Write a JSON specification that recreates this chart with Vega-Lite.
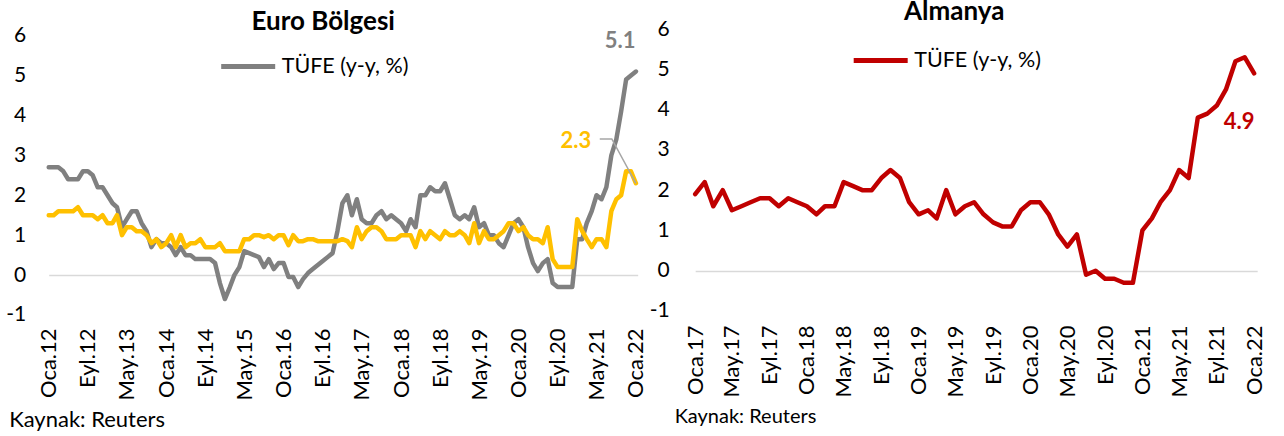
{
  "$schema": "https://vega.github.io/schema/vega-lite/v6.json",
  "background": "white",
  "padding": {"left": 5.7, "top": -2, "right": 0, "bottom": 0},
  "spacing": 57.5,
  "bounds": "flush",
  "config": {
    "font": "Lato",
    "view": {"stroke": null},
    "axis": {"domain": false, "ticks": false, "tickSize": 0, "grid": false, "labelColor": "#000000", "labelFont": "Lato", "titleFont": "Lato", "labelOverlap": false, "labelFlush": false},
    "axisX": {"labelOverlap": false, "labelFlush": false, "labelAngle": 270},
    "legend": {"labelFont": "Lato"}
  },
  "resolve": {"scale": {"color": "independent"}, "legend": {"color": "independent"}},
  "datasets": {
    "euro": [
      {"d": "2012-01", "tufe": 2.7, "cekirdek": 1.5},
      {"d": "2012-02", "tufe": 2.7, "cekirdek": 1.5},
      {"d": "2012-03", "tufe": 2.7, "cekirdek": 1.6},
      {"d": "2012-04", "tufe": 2.6, "cekirdek": 1.6},
      {"d": "2012-05", "tufe": 2.4, "cekirdek": 1.6},
      {"d": "2012-06", "tufe": 2.4, "cekirdek": 1.6},
      {"d": "2012-07", "tufe": 2.4, "cekirdek": 1.7},
      {"d": "2012-08", "tufe": 2.6, "cekirdek": 1.5},
      {"d": "2012-09", "tufe": 2.6, "cekirdek": 1.5},
      {"d": "2012-10", "tufe": 2.5, "cekirdek": 1.5},
      {"d": "2012-11", "tufe": 2.2, "cekirdek": 1.4},
      {"d": "2012-12", "tufe": 2.2, "cekirdek": 1.5},
      {"d": "2013-01", "tufe": 2.0, "cekirdek": 1.3},
      {"d": "2013-02", "tufe": 1.8, "cekirdek": 1.3},
      {"d": "2013-03", "tufe": 1.7, "cekirdek": 1.5},
      {"d": "2013-04", "tufe": 1.2, "cekirdek": 1.0},
      {"d": "2013-05", "tufe": 1.4, "cekirdek": 1.2},
      {"d": "2013-06", "tufe": 1.6, "cekirdek": 1.2},
      {"d": "2013-07", "tufe": 1.6, "cekirdek": 1.1},
      {"d": "2013-08", "tufe": 1.3, "cekirdek": 1.1},
      {"d": "2013-09", "tufe": 1.1, "cekirdek": 1.0},
      {"d": "2013-10", "tufe": 0.7, "cekirdek": 0.8},
      {"d": "2013-11", "tufe": 0.9, "cekirdek": 0.9},
      {"d": "2013-12", "tufe": 0.8, "cekirdek": 0.7},
      {"d": "2014-01", "tufe": 0.8, "cekirdek": 0.8},
      {"d": "2014-02", "tufe": 0.7, "cekirdek": 1.0},
      {"d": "2014-03", "tufe": 0.5, "cekirdek": 0.7},
      {"d": "2014-04", "tufe": 0.7, "cekirdek": 1.0},
      {"d": "2014-05", "tufe": 0.5, "cekirdek": 0.7},
      {"d": "2014-06", "tufe": 0.5, "cekirdek": 0.8},
      {"d": "2014-07", "tufe": 0.4, "cekirdek": 0.8},
      {"d": "2014-08", "tufe": 0.4, "cekirdek": 0.9},
      {"d": "2014-09", "tufe": 0.4, "cekirdek": 0.7},
      {"d": "2014-10", "tufe": 0.4, "cekirdek": 0.7},
      {"d": "2014-11", "tufe": 0.3, "cekirdek": 0.7},
      {"d": "2014-12", "tufe": -0.2, "cekirdek": 0.8},
      {"d": "2015-01", "tufe": -0.6, "cekirdek": 0.6},
      {"d": "2015-02", "tufe": -0.3, "cekirdek": 0.6},
      {"d": "2015-03", "tufe": 0.0, "cekirdek": 0.6},
      {"d": "2015-04", "tufe": 0.2, "cekirdek": 0.6},
      {"d": "2015-05", "tufe": 0.6, "cekirdek": 0.9},
      {"d": "2015-06", "tufe": 0.55, "cekirdek": 0.9},
      {"d": "2015-07", "tufe": 0.5, "cekirdek": 1.0},
      {"d": "2015-08", "tufe": 0.45, "cekirdek": 1.0},
      {"d": "2015-09", "tufe": 0.2, "cekirdek": 0.95},
      {"d": "2015-10", "tufe": 0.4, "cekirdek": 1.0},
      {"d": "2015-11", "tufe": 0.15, "cekirdek": 0.9},
      {"d": "2015-12", "tufe": 0.3, "cekirdek": 1.0},
      {"d": "2016-01", "tufe": 0.3, "cekirdek": 1.0},
      {"d": "2016-02", "tufe": -0.05, "cekirdek": 0.75},
      {"d": "2016-03", "tufe": -0.05, "cekirdek": 1.0},
      {"d": "2016-04", "tufe": -0.3, "cekirdek": 0.85},
      {"d": "2016-05", "tufe": -0.1, "cekirdek": 0.85},
      {"d": "2016-06", "tufe": 0.05, "cekirdek": 0.9},
      {"d": "2016-07", "tufe": 0.15, "cekirdek": 0.9},
      {"d": "2016-08", "tufe": 0.25, "cekirdek": 0.85},
      {"d": "2016-09", "tufe": 0.35, "cekirdek": 0.85},
      {"d": "2016-10", "tufe": 0.45, "cekirdek": 0.85},
      {"d": "2016-11", "tufe": 0.55, "cekirdek": 0.85},
      {"d": "2016-12", "tufe": 1.1, "cekirdek": 0.85},
      {"d": "2017-01", "tufe": 1.8, "cekirdek": 0.9},
      {"d": "2017-02", "tufe": 2.0, "cekirdek": 0.85},
      {"d": "2017-03", "tufe": 1.5, "cekirdek": 0.7},
      {"d": "2017-04", "tufe": 1.9, "cekirdek": 1.2},
      {"d": "2017-05", "tufe": 1.4, "cekirdek": 0.9},
      {"d": "2017-06", "tufe": 1.3, "cekirdek": 1.1},
      {"d": "2017-07", "tufe": 1.3, "cekirdek": 1.2},
      {"d": "2017-08", "tufe": 1.5, "cekirdek": 1.2},
      {"d": "2017-09", "tufe": 1.6, "cekirdek": 1.1},
      {"d": "2017-10", "tufe": 1.4, "cekirdek": 0.9},
      {"d": "2017-11", "tufe": 1.5, "cekirdek": 0.9},
      {"d": "2017-12", "tufe": 1.4, "cekirdek": 0.9},
      {"d": "2018-01", "tufe": 1.3, "cekirdek": 1.0},
      {"d": "2018-02", "tufe": 1.1, "cekirdek": 1.0},
      {"d": "2018-03", "tufe": 1.4, "cekirdek": 1.0},
      {"d": "2018-04", "tufe": 1.2, "cekirdek": 0.7},
      {"d": "2018-05", "tufe": 2.0, "cekirdek": 1.1},
      {"d": "2018-06", "tufe": 2.0, "cekirdek": 0.9},
      {"d": "2018-07", "tufe": 2.2, "cekirdek": 1.1},
      {"d": "2018-08", "tufe": 2.1, "cekirdek": 1.0},
      {"d": "2018-09", "tufe": 2.1, "cekirdek": 0.9},
      {"d": "2018-10", "tufe": 2.3, "cekirdek": 1.1},
      {"d": "2018-11", "tufe": 1.9, "cekirdek": 1.0},
      {"d": "2018-12", "tufe": 1.5, "cekirdek": 1.0},
      {"d": "2019-01", "tufe": 1.4, "cekirdek": 1.1},
      {"d": "2019-02", "tufe": 1.5, "cekirdek": 1.0},
      {"d": "2019-03", "tufe": 1.4, "cekirdek": 0.8},
      {"d": "2019-04", "tufe": 1.7, "cekirdek": 1.3},
      {"d": "2019-05", "tufe": 1.2, "cekirdek": 0.8},
      {"d": "2019-06", "tufe": 1.3, "cekirdek": 1.1},
      {"d": "2019-07", "tufe": 1.0, "cekirdek": 0.9},
      {"d": "2019-08", "tufe": 1.0, "cekirdek": 0.9},
      {"d": "2019-09", "tufe": 0.8, "cekirdek": 1.0},
      {"d": "2019-10", "tufe": 0.7, "cekirdek": 1.1},
      {"d": "2019-11", "tufe": 1.0, "cekirdek": 1.3},
      {"d": "2019-12", "tufe": 1.3, "cekirdek": 1.3},
      {"d": "2020-01", "tufe": 1.4, "cekirdek": 1.1},
      {"d": "2020-02", "tufe": 1.2, "cekirdek": 1.2},
      {"d": "2020-03", "tufe": 0.7, "cekirdek": 1.0},
      {"d": "2020-04", "tufe": 0.3, "cekirdek": 0.9},
      {"d": "2020-05", "tufe": 0.1, "cekirdek": 0.9},
      {"d": "2020-06", "tufe": 0.3, "cekirdek": 0.8},
      {"d": "2020-07", "tufe": 0.4, "cekirdek": 1.2},
      {"d": "2020-08", "tufe": -0.2, "cekirdek": 0.4},
      {"d": "2020-09", "tufe": -0.3, "cekirdek": 0.2},
      {"d": "2020-10", "tufe": -0.3, "cekirdek": 0.2},
      {"d": "2020-11", "tufe": -0.3, "cekirdek": 0.2},
      {"d": "2020-12", "tufe": -0.3, "cekirdek": 0.2},
      {"d": "2021-01", "tufe": 0.9, "cekirdek": 1.4},
      {"d": "2021-02", "tufe": 0.9, "cekirdek": 1.1},
      {"d": "2021-03", "tufe": 1.3, "cekirdek": 0.9},
      {"d": "2021-04", "tufe": 1.6, "cekirdek": 0.7},
      {"d": "2021-05", "tufe": 2.0, "cekirdek": 0.9},
      {"d": "2021-06", "tufe": 1.9, "cekirdek": 0.9},
      {"d": "2021-07", "tufe": 2.2, "cekirdek": 0.7},
      {"d": "2021-08", "tufe": 3.0, "cekirdek": 1.6},
      {"d": "2021-09", "tufe": 3.4, "cekirdek": 1.9},
      {"d": "2021-10", "tufe": 4.1, "cekirdek": 2.0},
      {"d": "2021-11", "tufe": 4.9, "cekirdek": 2.6},
      {"d": "2021-12", "tufe": 5.0, "cekirdek": 2.6},
      {"d": "2022-01", "tufe": 5.1, "cekirdek": 2.3}
    ],
    "almanya": [
      {"d": "2017-01", "tufe": 1.9},
      {"d": "2017-02", "tufe": 2.2},
      {"d": "2017-03", "tufe": 1.6},
      {"d": "2017-04", "tufe": 2.0},
      {"d": "2017-05", "tufe": 1.5},
      {"d": "2017-06", "tufe": 1.6},
      {"d": "2017-07", "tufe": 1.7},
      {"d": "2017-08", "tufe": 1.8},
      {"d": "2017-09", "tufe": 1.8},
      {"d": "2017-10", "tufe": 1.6},
      {"d": "2017-11", "tufe": 1.8},
      {"d": "2017-12", "tufe": 1.7},
      {"d": "2018-01", "tufe": 1.6},
      {"d": "2018-02", "tufe": 1.4},
      {"d": "2018-03", "tufe": 1.6},
      {"d": "2018-04", "tufe": 1.6},
      {"d": "2018-05", "tufe": 2.2},
      {"d": "2018-06", "tufe": 2.1},
      {"d": "2018-07", "tufe": 2.0},
      {"d": "2018-08", "tufe": 2.0},
      {"d": "2018-09", "tufe": 2.3},
      {"d": "2018-10", "tufe": 2.5},
      {"d": "2018-11", "tufe": 2.3},
      {"d": "2018-12", "tufe": 1.7},
      {"d": "2019-01", "tufe": 1.4},
      {"d": "2019-02", "tufe": 1.5},
      {"d": "2019-03", "tufe": 1.3},
      {"d": "2019-04", "tufe": 2.0},
      {"d": "2019-05", "tufe": 1.4},
      {"d": "2019-06", "tufe": 1.6},
      {"d": "2019-07", "tufe": 1.7},
      {"d": "2019-08", "tufe": 1.4},
      {"d": "2019-09", "tufe": 1.2},
      {"d": "2019-10", "tufe": 1.1},
      {"d": "2019-11", "tufe": 1.1},
      {"d": "2019-12", "tufe": 1.5},
      {"d": "2020-01", "tufe": 1.7},
      {"d": "2020-02", "tufe": 1.7},
      {"d": "2020-03", "tufe": 1.4},
      {"d": "2020-04", "tufe": 0.9},
      {"d": "2020-05", "tufe": 0.6},
      {"d": "2020-06", "tufe": 0.9},
      {"d": "2020-07", "tufe": -0.1},
      {"d": "2020-08", "tufe": 0.0},
      {"d": "2020-09", "tufe": -0.2},
      {"d": "2020-10", "tufe": -0.2},
      {"d": "2020-11", "tufe": -0.3},
      {"d": "2020-12", "tufe": -0.3},
      {"d": "2021-01", "tufe": 1.0},
      {"d": "2021-02", "tufe": 1.3},
      {"d": "2021-03", "tufe": 1.7},
      {"d": "2021-04", "tufe": 2.0},
      {"d": "2021-05", "tufe": 2.5},
      {"d": "2021-06", "tufe": 2.3},
      {"d": "2021-07", "tufe": 3.8},
      {"d": "2021-08", "tufe": 3.9},
      {"d": "2021-09", "tufe": 4.1},
      {"d": "2021-10", "tufe": 4.5},
      {"d": "2021-11", "tufe": 5.2},
      {"d": "2021-12", "tufe": 5.3},
      {"d": "2022-01", "tufe": 4.9}
    ]
  },
  "hconcat": [
    {
      "width": 589,
      "height": 286,
      "title": {"text": "Euro Bölgesi", "anchor": "middle", "frame": "group", "font": "Lato", "fontSize": 26, "fontWeight": "bold", "color": "#000000", "baseline": "alphabetic", "offset": -31.7, "dx": -20},
      "encoding": {
        "x": {"field": "d", "type": "temporal", "title": "Kaynak: Reuters",
          "scale": {"type": "utc", "domain": [{"year": 2012, "month": 1, "date": 1, "utc": true}, {"year": 2022, "month": 1, "date": 12, "utc": true}]},
          "axis": {
            "values": [
              {"year": 2012, "month": 1, "date": 1, "utc": true}, {"year": 2012, "month": 9, "date": 1, "utc": true},
              {"year": 2013, "month": 5, "date": 1, "utc": true}, {"year": 2014, "month": 1, "date": 1, "utc": true},
              {"year": 2014, "month": 9, "date": 1, "utc": true}, {"year": 2015, "month": 5, "date": 1, "utc": true},
              {"year": 2016, "month": 1, "date": 1, "utc": true}, {"year": 2016, "month": 9, "date": 1, "utc": true},
              {"year": 2017, "month": 5, "date": 1, "utc": true}, {"year": 2018, "month": 1, "date": 1, "utc": true},
              {"year": 2018, "month": 9, "date": 1, "utc": true}, {"year": 2019, "month": 5, "date": 1, "utc": true},
              {"year": 2020, "month": 1, "date": 1, "utc": true}, {"year": 2020, "month": 9, "date": 1, "utc": true},
              {"year": 2021, "month": 5, "date": 1, "utc": true}, {"year": 2022, "month": 1, "date": 1, "utc": true}
            ],
            "labelExpr": "['Oca','Şub','Mar','Nis','May','Haz','Tem','Ağu','Eyl','Eki','Kas','Ara'][utcmonth(datum.value)] + '.' + utcFormat(datum.value, '%y')",
            "labelAngle": 270, "labelPadding": 13, "labelFontSize": 22, "labelFlush": false, "labelOverlap": false,
            "titleFontSize": 22, "titleFontWeight": "normal", "titleColor": "#000000",
            "titleAlign": "left", "titleBaseline": "middle", "titleX": -40, "titleY": 105
          }
        }
      },
      "layer": [
        {
          "data": {"name": "euro"},
          "mark": {"type": "line", "strokeWidth": 4.5, "strokeJoin": "round", "strokeCap": "round"},
          "encoding": {
            "y": {"field": "tufe", "type": "quantitative", "title": null,
              "scale": {"domain": [-1, 6.165], "nice": false, "zero": false},
              "axis": {"values": [-1, 0, 1, 2, 3, 4, 5, 6], "title": null, "labelPadding": 23, "labelFontSize": 21, "labelOverlap": false,
                "labelExpr": "replace(datum.label, '−', '-')",
                "grid": true, "gridWidth": 1.5,
                "gridColor": {"condition": {"test": "datum.value === 0", "value": "#D9D9D9"}, "value": "transparent"}}},
            "color": {"datum": "TÜFE (y-y, %)", "scale": {"range": ["#808080"]},
              "legend": {"orient": "none", "legendX": 170, "legendY": 8, "title": null, "symbolType": "stroke", "symbolSize": 2916, "symbolStrokeWidth": 5, "labelFontSize": 21.5, "labelColor": "#000000", "labelOffset": 4, "padding": 0}}
          }
        },
        {
          "data": {"name": "euro"},
          "mark": {"type": "line", "color": "#FFC000", "strokeWidth": 4.5, "strokeJoin": "round", "strokeCap": "round"},
          "encoding": {
            "y": {"field": "cekirdek", "type": "quantitative", "title": null}
          }
        },
        {
          "data": {"values": [{"d": "2021-05-21", "v": 3.41}, {"d": "2021-08-04", "v": 3.41}, {"d": "2022-01-01", "v": 2.3}]},
          "mark": {"type": "line", "color": "#A6A6A6", "strokeWidth": 1.5},
          "encoding": {
            "y": {"field": "v", "type": "quantitative", "title": null}
          }
        },
        {
          "data": {"values": [{"d": "2021-09-25", "v": 5.87, "t": "5.1"}]},
          "mark": {"type": "text", "color": "#808080", "font": "Lato", "fontSize": 22, "fontWeight": "bold", "align": "center", "baseline": "middle"},
          "encoding": {
            "y": {"field": "v", "type": "quantitative", "title": null},
            "text": {"field": "t"}
          }
        },
        {
          "data": {"values": [{"d": "2020-12-24", "v": 3.37, "t": "2.3"}]},
          "mark": {"type": "text", "color": "#FFC000", "font": "Lato", "fontSize": 22, "fontWeight": "bold", "align": "center", "baseline": "middle"},
          "encoding": {
            "y": {"field": "v", "type": "quantitative", "title": null},
            "text": {"field": "t"}
          }
        }
      ]
    },
    {
      "width": 562,
      "height": 282,
      "title": {"text": "Almanya", "anchor": "middle", "frame": "group", "font": "Lato", "fontSize": 26, "fontWeight": "bold", "color": "#000000", "baseline": "alphabetic", "offset": -27.7, "dx": -22},
      "encoding": {
        "x": {"field": "d", "type": "temporal", "title": "Kaynak: Reuters",
          "scale": {"type": "utc", "domain": [{"year": 2017, "month": 1, "date": 1, "utc": true}, {"year": 2022, "month": 1, "date": 11, "utc": true}]},
          "axis": {
            "values": [
              {"year": 2017, "month": 1, "date": 1, "utc": true}, {"year": 2017, "month": 5, "date": 1, "utc": true},
              {"year": 2017, "month": 9, "date": 1, "utc": true}, {"year": 2018, "month": 1, "date": 1, "utc": true},
              {"year": 2018, "month": 5, "date": 1, "utc": true}, {"year": 2018, "month": 9, "date": 1, "utc": true},
              {"year": 2019, "month": 1, "date": 1, "utc": true}, {"year": 2019, "month": 5, "date": 1, "utc": true},
              {"year": 2019, "month": 9, "date": 1, "utc": true}, {"year": 2020, "month": 1, "date": 1, "utc": true},
              {"year": 2020, "month": 5, "date": 1, "utc": true}, {"year": 2020, "month": 9, "date": 1, "utc": true},
              {"year": 2021, "month": 1, "date": 1, "utc": true}, {"year": 2021, "month": 5, "date": 1, "utc": true},
              {"year": 2021, "month": 9, "date": 1, "utc": true}, {"year": 2022, "month": 1, "date": 1, "utc": true}
            ],
            "labelExpr": "['Oca','Şub','Mar','Nis','May','Haz','Tem','Ağu','Eyl','Eki','Kas','Ara'][utcmonth(datum.value)] + '.' + utcFormat(datum.value, '%y')",
            "labelAngle": 270, "labelPadding": 14, "labelFontSize": 22, "labelFlush": false, "labelOverlap": false,
            "titleFontSize": 20, "titleFontWeight": "normal", "titleColor": "#000000",
            "titleAlign": "left", "titleBaseline": "middle", "titleX": -21, "titleY": 106
          }
        }
      },
      "layer": [
        {
          "data": {"name": "almanya"},
          "mark": {"type": "line", "strokeWidth": 4.5, "strokeJoin": "round", "strokeCap": "round"},
          "encoding": {
            "y": {"field": "tufe", "type": "quantitative", "title": null,
              "scale": {"domain": [-1, 6], "nice": false, "zero": false},
              "axis": {"values": [-1, 0, 1, 2, 3, 4, 5, 6], "title": null, "labelPadding": 26, "labelFontSize": 21, "labelOverlap": false,
                "labelExpr": "replace(datum.label, '−', '-')",
                "grid": true, "gridWidth": 1.5,
                "gridColor": {"condition": {"test": "datum.value === 0", "value": "#D9D9D9"}, "value": "transparent"}}},
            "color": {"datum": "TÜFE (y-y, %)", "scale": {"range": ["#C00000"]},
              "legend": {"orient": "none", "legendX": 156, "legendY": 2, "title": null, "symbolType": "stroke", "symbolSize": 2916, "symbolStrokeWidth": 5, "labelFontSize": 21.5, "labelColor": "#000000", "labelOffset": 4, "padding": 0}}
          }
        },
        {
          "data": {"values": [{"d": "2021-11-13", "v": 3.68, "t": "4.9"}]},
          "mark": {"type": "text", "color": "#C00000", "font": "Lato", "fontSize": 22, "fontWeight": "bold", "align": "center", "baseline": "middle"},
          "encoding": {
            "y": {"field": "v", "type": "quantitative", "title": null},
            "text": {"field": "t"}
          }
        }
      ]
    }
  ]
}
